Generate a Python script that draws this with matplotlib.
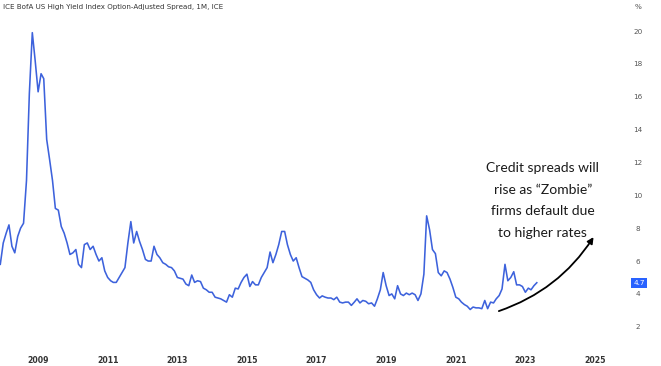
import matplotlib
matplotlib.use("Agg")
import matplotlib.pyplot as plt
import matplotlib.dates as mdates
from matplotlib.patches import FancyArrowPatch
import pandas as pd

# monthly spread values, Dec 2007 .. May 2023
start_month = "2007-12-01"
spread_2007 = [5.8]
spread_2008 = [7.1, 7.7, 8.2, 6.9, 6.5, 7.5, 8.0, 8.3, 10.9, 16.2, 19.9, 18.2]
spread_2009 = [16.3, 17.4, 17.1, 13.4, 12.2, 10.9, 9.2, 9.1, 8.1, 7.7, 7.1, 6.4]
spread_2010 = [6.5, 6.7, 5.8, 5.6, 7.0, 7.1, 6.7, 6.9, 6.4, 6.0, 6.2, 5.4]
spread_2011 = [5.0, 4.8, 4.7, 4.7, 5.0, 5.3, 5.6, 7.1, 8.4, 7.1, 7.8, 7.2]
spread_2012 = [6.7, 6.1, 6.0, 6.0, 6.9, 6.4, 6.2, 5.9, 5.8, 5.65, 5.6, 5.4]
spread_2013 = [5.0, 4.95, 4.9, 4.6, 4.5, 5.15, 4.7, 4.8, 4.75, 4.35, 4.25, 4.1]
spread_2014 = [4.1, 3.8, 3.75, 3.7, 3.6, 3.5, 3.95, 3.8, 4.35, 4.3, 4.7, 5.0]
spread_2015 = [5.2, 4.45, 4.75, 4.55, 4.55, 5.0, 5.3, 5.6, 6.55, 5.9, 6.4, 7.0]
spread_2016 = [7.8, 7.8, 7.0, 6.4, 6.0, 6.2, 5.6, 5.05, 4.95, 4.85, 4.7, 4.25]
spread_2017 = [3.95, 3.75, 3.88, 3.8, 3.75, 3.75, 3.65, 3.8, 3.5, 3.45, 3.5, 3.5]
spread_2018 = [3.3, 3.5, 3.7, 3.45, 3.6, 3.55, 3.4, 3.45, 3.25, 3.7, 4.25, 5.3]
spread_2019 = [4.5, 3.9, 4.0, 3.7, 4.5, 4.0, 3.9, 4.05, 3.95, 4.05, 3.95, 3.6]
spread_2020 = [4.0, 5.2, 8.75, 7.9, 6.7, 6.45, 5.3, 5.1, 5.4, 5.3, 4.9, 4.4]
spread_2021 = [3.8, 3.7, 3.5, 3.35, 3.25, 3.05, 3.2, 3.15, 3.15, 3.1, 3.6, 3.1]
spread_2022 = [3.5, 3.45, 3.7, 3.9, 4.3, 5.8, 4.8, 5.0, 5.35, 4.55, 4.55, 4.45]
spread_2023 = [4.1, 4.35, 4.25, 4.5, 4.68]

y_ticks = [2, 4, 6, 8, 10, 12, 14, 16, 18, 20]
x_tick_years = [2009, 2011, 2013, 2015, 2017, 2019, 2021, 2023, 2025]

title = "ICE BofA US High Yield Index Option-Adjusted Spread, 1M, ICE"
note = "Credit spreads will\nrise as \u201cZombie\u201d\nfirms default due\nto higher rates"

spread = (spread_2007 + spread_2008 + spread_2009 + spread_2010 + spread_2011
          + spread_2012 + spread_2013 + spread_2014 + spread_2015 + spread_2016
          + spread_2017 + spread_2018 + spread_2019 + spread_2020 + spread_2021
          + spread_2022 + spread_2023)
dates = pd.date_range(start_month, periods=len(spread), freq="MS")

W, H = 661, 366
fig = plt.figure(figsize=(W / 100, H / 100), dpi=100)
ax = fig.add_axes([0, 21 / H, 620 / W, 325 / H])

line_col = "#3d62dc"
ax.plot(dates, spread, color=line_col, lw=1.15)

ax.set_xlim(pd.Timestamp("2007-11-28"), pd.Timestamp("2025-09-20"))
ax.set_ylim(0.89, 20.67)

for s in ax.spines.values():
    s.set_visible(False)

ax.yaxis.tick_right()
ax.set_yticks(y_ticks)
ax.set_yticklabels([str(t) for t in y_ticks])
ax.tick_params(axis="y", length=0, pad=13, labelsize=5.2, labelcolor="#555555")
for lab in ax.get_yticklabels():
    lab.set_horizontalalignment("center")

ax.set_xticks([pd.Timestamp(f"{y}-01-01") for y in x_tick_years])
ax.set_xticklabels([str(y) for y in x_tick_years])
ax.tick_params(axis="x", length=0, pad=8, labelsize=5.6, labelcolor="#333333")
for lab in ax.get_xticklabels():
    lab.set_fontweight("bold")

fig.text(3 / W, 1 - 7 / H, title, fontsize=5.1, color="#333333", va="center", ha="left")
fig.text(638 / W, 1 - 7 / H, "%", fontsize=5.2, color="#555555", va="center", ha="center")

# last value tag on the price scale
ax.annotate(f"{spread[-1]:.1f}", xy=(639 / 620, spread[-1]),
            xycoords=("axes fraction", "data"), ha="center", va="center",
            fontsize=5.2, color="white", annotation_clip=False,
            bbox=dict(boxstyle="square,pad=0.25", fc="#2962ff", ec="none"))

# annotation text and curved arrow
ax.text(pd.Timestamp("2023-07-04"), 9.68, note, ha="center", va="center",
        fontsize=10, family="Lato", color="#1a1a1a", linespacing=1.95)
arrow = FancyArrowPatch((mdates.date2num(pd.Timestamp("2022-03-01")), 2.9),
                        (mdates.date2num(pd.Timestamp("2025-01-01")), 7.6),
                        connectionstyle="arc3,rad=0.18", arrowstyle="-|>",
                        mutation_scale=9, lw=1.3, color="black")
ax.add_patch(arrow)

fig.savefig("out.png", dpi=100)
